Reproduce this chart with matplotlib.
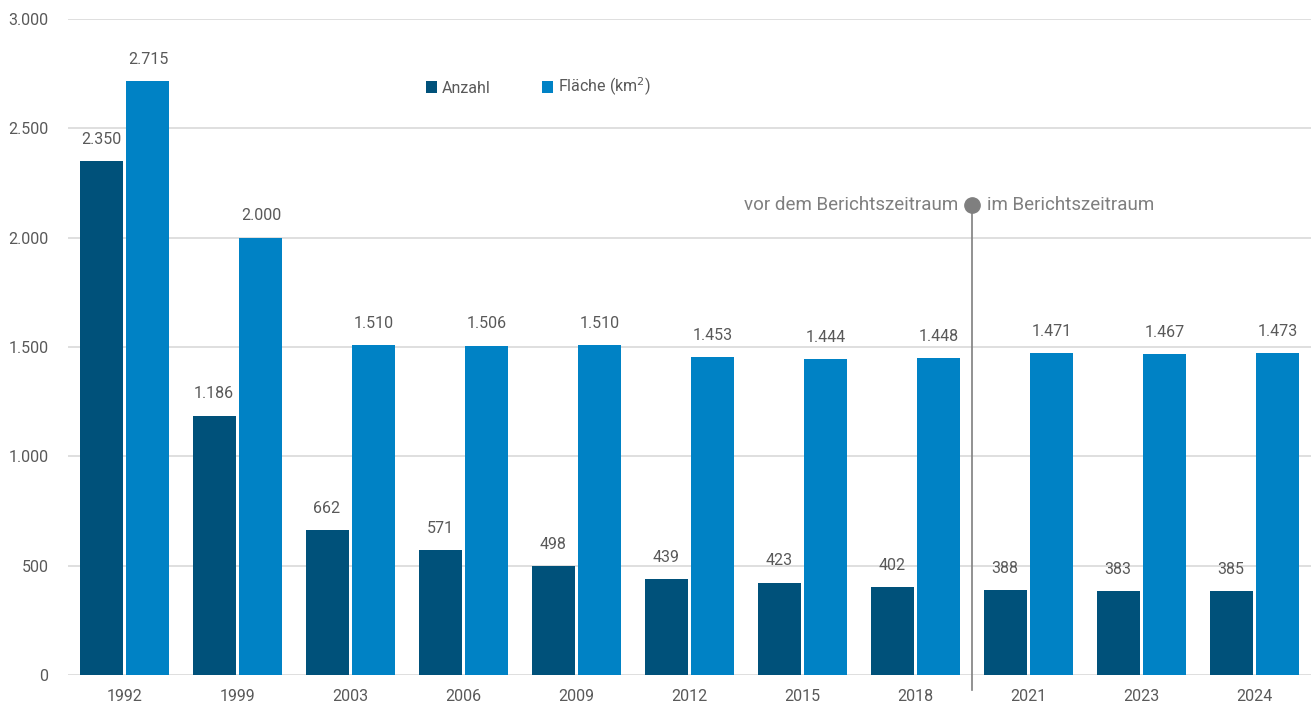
import matplotlib
matplotlib.use("Agg")
import matplotlib.pyplot as plt
import numpy as np

years = ["1992", "1999", "2003", "2006", "2009", "2012", "2015", "2018", "2021", "2023", "2024"]
anzahl = [2350, 1186, 662, 571, 498, 439, 423, 402, 388, 383, 385]
flaeche = [2715, 2000, 1510, 1506, 1510, 1453, 1444, 1448, 1471, 1467, 1473]
yticks = [0, 500, 1000, 1500, 2000, 2500, 3000]

c_dark = "#00517A"
c_light = "#0082C5"
c_text = "#595959"
c_grid = "#D9D9D9"
c_marker = "#7F7F7F"

plt.rcParams['font.family'] = ['Roboto', 'DejaVu Sans']

def fmt(v):
    return f"{v:,}".replace(",", ".")

fig = plt.figure(figsize=(13.11, 7.05), dpi=100)
ax = fig.add_axes([68/1311, 1 - 675/705, 1 - 68/1311, (675 - 19)/705])

x = np.arange(len(years))
w = 0.38
off = 0.2075
ax.bar(x - off, anzahl, w, color=c_dark, label="Anzahl", zorder=3)
ax.bar(x + off, flaeche, w, color=c_light, label="Fläche (km$^2$)", zorder=3)

for xi, v in zip(x - off, anzahl):
    ax.text(xi, v + 65, fmt(v), ha="center", va="bottom", fontsize=11.5, color=c_text)
for xi, v in zip(x + off, flaeche):
    ax.text(xi, v + 65, fmt(v), ha="center", va="bottom", fontsize=11.5, color=c_text)

ax.set_xlim(-0.5, len(years) - 0.5)
ax.set_ylim(0, 3000)
ax.set_yticks(yticks)
ax.set_yticklabels([fmt(v) for v in yticks], fontsize=11.5, color=c_text)
ax.set_xticks(x)
ax.set_xticklabels(years, fontsize=11.5, color=c_text)
ax.tick_params(axis="both", length=0)
ax.tick_params(axis="y", pad=14)
ax.tick_params(axis="x", pad=10)
for s in ax.spines.values():
    s.set_visible(False)
ax.yaxis.grid(True, color=c_grid, linewidth=1.2, zorder=0)
ax.set_axisbelow(True)

# Divider between periods
xd = 7.5
ax.plot([xd, xd], [-70, 2150], color=c_marker, linewidth=1.2, clip_on=False, zorder=4)
ax.plot([xd], [2150], marker="o", markersize=11, color=c_marker, clip_on=False, zorder=5)
ax.text(xd - 0.12, 2150, "vor dem Berichtszeitraum", ha="right", va="center", fontsize=13.5, color=c_marker)
ax.text(xd + 0.13, 2150, "im Berichtszeitraum", ha="left", va="center", fontsize=13.5, color=c_marker)

ax.legend(loc="center left", bbox_to_anchor=(0.288, 0.896), ncol=2, frameon=False,
          fontsize=11.5, handlelength=0.7, handleheight=0.7, handletextpad=0.3,
          columnspacing=3.2, labelcolor=c_text, borderpad=0, borderaxespad=0)

fig.savefig("out.png", dpi=100)
